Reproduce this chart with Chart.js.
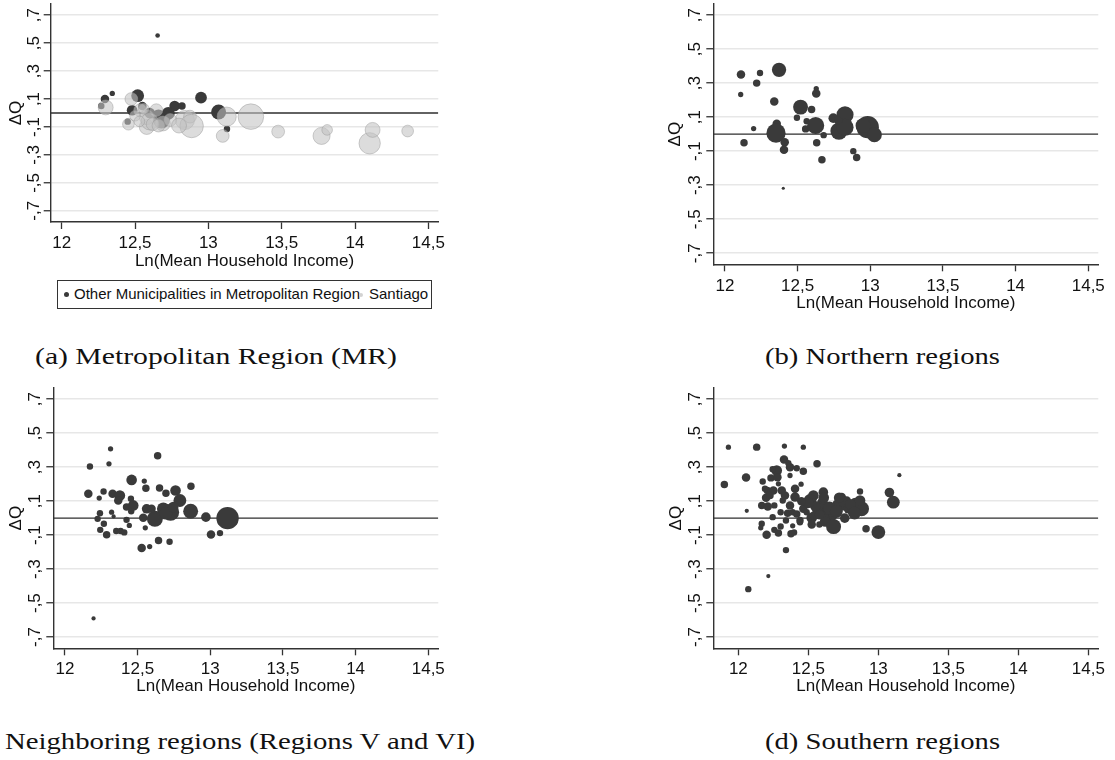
<!DOCTYPE html>
<html><head><meta charset="utf-8">
<script src="https://cdn.jsdelivr.net/npm/chart.js@4.4.1/dist/chart.umd.min.js"></script>
<style>
html,body{margin:0;padding:0;background:#fff;width:1115px;height:760px;overflow:hidden;position:relative}
canvas{position:absolute;display:block}
.cap{position:absolute;font-family:"Liberation Serif","Times New Roman",serif;font-size:24px;line-height:26px;color:#111;white-space:nowrap;transform-origin:0 50%}
.legend{position:absolute;left:57px;top:280px;width:375px;height:29px;border:1px solid #333;box-sizing:border-box;font-family:"Liberation Sans",Arial,sans-serif;font-size:15px;color:#111}
.legend span{position:absolute}
.dot{border-radius:50%}
</style>
</head><body>
<canvas id="ca"></canvas>
<canvas id="cb"></canvas>
<canvas id="cc"></canvas>
<canvas id="cd"></canvas>
<div class="legend">
  <span class="dot" style="left:6px;top:11px;width:5px;height:5px;background:#3a3a3a"></span>
  <span style="left:16px;top:4px">Other Municipalities in Metropolitan Region</span>
  <span class="dot" style="left:301px;top:12px;width:4px;height:4px;background:#d2d2d2"></span>
  <span style="left:311px;top:4px">Santiago</span>
</div>
<div class="cap" data-w="362" style="left:35px;top:343px">(a) Metropolitan Region (MR)</div>
<div class="cap" data-w="235" style="left:765px;top:343px">(b) Northern regions</div>
<div class="cap" data-w="470" style="left:5px;top:728px">Neighboring regions (Regions V and VI)</div>
<div class="cap" data-w="235" style="left:765px;top:728px">(d) Southern regions</div>
<script>
// ---------------- data ----------------
const xTicks = [12, 12.5, 13, 13.5, 14, 14.5];
const xTickLabels = ["12", "12,5", "13", "13,5", "14", "14,5"];
const yTicks = [-0.7, -0.5, -0.3, -0.1, 0.1, 0.3, 0.5, 0.7];
const yTickLabels = ["-,7", "-,5", "-,3", "-,1", ",1", ",3", ",5", ",7"];
const xTitle = "Ln(Mean Household Income)";
const yTitle = "ΔQ";

// (a) Metropolitan Region
const mrOtherIncome = [12.654, 12.295, 12.345, 12.518, 12.95, 12.77, 12.82, 13.07, 13.127, 12.45, 12.68, 12.48, 12.727, 12.27, 12.60, 12.66, 12.55];
const mrOtherDQ     = [0.555, 0.10, 0.14, 0.124, 0.11, 0.05, 0.05, 0.007, -0.114, -0.062, -0.05, 0.02, -0.002, 0.05, 0.00, -0.02, 0.05];
const mrOtherWeight = [13, 44, 17, 100, 84, 69, 34, 136, 25, 25, 178, 69, 100, 25, 69, 100, 44];

const santiagoIncome = [12.30, 12.475, 12.455, 12.535, 12.58, 12.645, 12.58, 12.69, 12.84, 12.875, 12.886, 13.125, 13.29, 13.098, 13.476, 13.772, 13.81, 14.10, 14.12, 14.359, 12.60, 12.56, 12.62, 12.50, 12.74, 12.80, 12.53, 12.66];
const santiagoDQ     = [0.04, 0.10, -0.08, 0.02, -0.10, 0.02, -0.03, -0.075, -0.05, -0.026, -0.093, -0.026, -0.026, -0.164, -0.133, -0.164, -0.121, -0.217, -0.121, -0.129, -0.06, 0.03, -0.08, -0.02, -0.05, -0.09, -0.06, -0.09];
const santiagoWeight = [136, 100, 84, 100, 136, 100, 136, 136, 225, 100, 336, 225, 400, 100, 100, 178, 69, 278, 136, 84, 178, 69, 100, 69, 100, 136, 69, 100];

// (b) Northern regions
const northIncome = [12.11, 12.241, 12.218, 12.108, 12.372, 12.339, 12.628, 12.628, 12.52, 12.596, 12.495, 12.197, 12.131, 12.356, 12.351, 12.411, 12.406, 12.401, 12.562, 12.555, 12.624, 12.631, 12.679, 12.667, 12.745, 12.784, 12.826, 12.826, 12.78, 12.883, 12.906, 12.982, 13.028, 12.95];
const northDQ     = [0.351, 0.359, 0.30, 0.233, 0.378, 0.192, 0.267, 0.239, 0.159, 0.145, 0.096, 0.033, -0.051, 0.061, 0.006, -0.047, -0.092, -0.318, 0.076, 0.031, 0.051, -0.051, -0.006, -0.151, 0.094, 0.018, 0.114, 0.041, 0.08, -0.10, -0.137, 0.041, -0.004, 0.05];
const northWeight = [44, 25, 34, 17, 125, 44, 17, 44, 136, 34, 25, 17, 34, 44, 225, 44, 44, 6, 25, 34, 178, 34, 25, 34, 56, 178, 178, 178, 44, 25, 34, 306, 136, 136];

// (c) Neighboring regions (V and VI)
const neighIncome = [12.314, 12.172, 12.303, 12.638, 12.197, 12.459, 12.546, 12.557, 12.651, 12.867, 12.161, 12.266, 12.236, 12.328, 12.378, 12.367, 12.454, 12.47, 12.424, 12.695, 12.761, 12.791, 12.865, 12.727, 12.677, 12.619, 12.562, 12.539, 12.97, 13.119, 13.005, 13.067, 12.225, 12.241, 12.268, 12.243, 12.287, 12.353, 12.383, 12.408, 12.443, 12.424, 12.335, 12.553, 12.528, 12.583, 12.644, 12.72, 12.596, 12.695, 12.745, 12.456, 12.321];
const neighDQ     = [0.408, 0.304, 0.32, 0.367, -0.59, 0.225, 0.218, 0.176, 0.178, 0.188, 0.143, 0.157, 0.118, 0.143, 0.133, 0.104, 0.114, 0.075, 0.065, 0.147, 0.163, 0.104, 0.041, 0.035, 0.055, -0.004, 0.055, 0.002, 0.006, 0.0, -0.096, -0.088, -0.004, 0.029, -0.033, -0.069, -0.098, -0.076, -0.076, -0.084, -0.043, -0.01, 0.01, -0.057, -0.175, -0.167, -0.131, -0.139, 0.055, 0.029, 0.065, 0.041, 0.035];
const neighWeight = [17, 25, 17, 34, 11, 69, 17, 34, 34, 34, 44, 25, 17, 44, 69, 44, 25, 69, 34, 34, 69, 100, 136, 178, 100, 156, 56, 44, 56, 306, 44, 25, 25, 25, 25, 25, 34, 25, 25, 25, 17, 25, 11, 17, 44, 17, 34, 25, 44, 100, 69, 25, 17];

// (d) Southern regions
const southIncome = [11.929, 12.131, 12.329, 12.464, 11.90, 12.055, 12.06, 12.071, 12.214, 12.34, 12.562, 13.15, 12.869, 13.079, 13.107, 13.0, 12.912, 12.845, 12.88, 12.738, 12.738, 12.679, 12.655, 12.607, 12.536, 12.512, 12.571, 12.524, 12.579, 12.44, 12.405, 12.448, 12.464, 12.417, 12.369, 12.326, 12.357, 12.274, 12.245, 12.174, 12.233, 12.207, 12.198, 12.167, 12.21, 12.245, 12.167, 12.16, 12.202, 12.257, 12.286, 12.302, 12.376, 12.398, 12.388, 12.44, 12.31, 12.333, 12.317, 12.369, 12.405, 12.388, 12.417, 12.302, 12.257, 12.464, 12.369, 12.286, 12.25, 12.679, 12.619, 12.786, 12.774, 12.702, 12.488, 12.54, 12.524, 12.631, 12.869, 12.821, 12.226, 12.19, 12.279, 12.352, 12.34,
                     12.60, 12.65, 12.70, 12.75, 12.80, 12.55, 12.83, 12.61, 12.72, 12.50, 12.45, 12.62, 12.68, 12.58, 12.76];
const southDQ     = [0.418, 0.418, 0.424, 0.418, 0.198, 0.239, 0.043, -0.418, -0.341, -0.188, 0.32, 0.253, 0.157, 0.151, 0.094, -0.082, -0.063, 0.065, 0.055, 0.124, 0.075, -0.043, 0.025, 0.153, 0.133, 0.104, 0.055, 0.002, -0.037, -0.014, 0.173, 0.2, 0.276, 0.294, 0.3, 0.345, 0.324, 0.28, 0.288, 0.216, 0.237, 0.163, 0.12, 0.075, 0.069, 0.006, -0.033, -0.057, -0.098, -0.069, -0.088, -0.049, -0.092, -0.084, -0.045, -0.024, 0.163, 0.133, 0.104, 0.075, 0.124, 0.035, 0.025, 0.035, 0.075, 0.055, 0.251, 0.202, 0.163, 0.025, -0.004, 0.055, 0.104, 0.084, 0.035, 0.016, -0.037, 0.065, 0.104, 0.035, 0.133, 0.173, 0.241, 0.029, -0.014,
                     0.09, 0.06, 0.04, 0.10, 0.08, 0.07, 0.03, 0.12, 0.12, 0.09, 0.10, -0.02, -0.05, 0.02, 0.00];
const southWeight = [17, 34, 17, 17, 34, 44, 11, 25, 11, 25, 34, 11, 25, 56, 100, 117, 34, 225, 136, 44, 69, 100, 136, 56, 69, 100, 100, 69, 25, 34, 44, 17, 34, 25, 44, 44, 25, 69, 25, 25, 34, 34, 44, 34, 44, 25, 25, 17, 44, 25, 34, 25, 34, 25, 17, 25, 44, 44, 25, 44, 56, 25, 34, 25, 25, 44, 17, 17, 44, 69, 44, 56, 44, 44, 25, 44, 44, 69, 69, 69, 34, 25, 44, 34, 25,
                     69, 100, 100, 69, 69, 69, 100, 69, 69, 69, 44, 69, 136, 56, 56];

// ---------------- drawing ----------------
const DARK = '#3a3a3a';
const rOf = w => 0.64 * Math.sqrt(w);
const pts = (xs, ys, ws) => xs.map((x, i) => ({ x: x, y: ys[i], r: rOf(ws[i]) }));

const FONT = '"Liberation Sans", Arial, sans-serif';
const FS = 17;
const mctx = document.createElement('canvas').getContext('2d');
mctx.font = FS + 'px ' + FONT;
const widestY = Math.max(...yTickLabels.map(t => mctx.measureText(t).width));

function darkSet(data) {
  return { type: 'bubble', data: data, backgroundColor: DARK, borderWidth: 0, order: 2 };
}
function lightSet(data) {
  return { type: 'bubble', data: data, backgroundColor: 'rgba(195,195,195,0.58)', borderColor: 'rgba(150,150,150,0.45)', borderWidth: 1, order: 1 };
}

function makePanel(g, sets) {
  const cv = document.getElementById(g.id);
  cv.width = g.width; cv.height = g.height;
  cv.style.left = g.left + 'px'; cv.style.top = g.top + 'px';
  const yAxisW = g.area.l - g.left;
  const xAxisH = g.top + g.height - g.area.b;
  const TL = 7;
  const zero = { type: 'line', data: [{ x: g.x[0], y: 0 }, { x: g.x[1], y: 0 }], borderColor: '#2e2e2e', borderWidth: 1.4, pointRadius: 0, order: 10 };
  new Chart(cv, {
    type: 'bubble',
    data: { datasets: [zero].concat(sets) },
    options: {
      responsive: false, animation: false, events: [],
      layout: { autoPadding: false, padding: { left: 0, top: g.area.t - g.top, right: g.left + g.width - g.area.r, bottom: 0 } },
      plugins: { legend: { display: false }, tooltip: { enabled: false } },
      scales: {
        x: {
          type: 'linear', min: g.x[0], max: g.x[1],
          afterBuildTicks: s => { s.ticks = xTicks.map(v => ({ value: v })); },
          afterFit: s => { s.height = xAxisH; s.paddingLeft = 0; s.paddingRight = 0; s.paddingTop = 0; s.paddingBottom = 0; },
          ticks: { autoSkip: false, maxRotation: 0, minRotation: 0, padding: g.xPad, color: '#111', font: { family: FONT, size: FS },
                   callback: (v, i) => xTickLabels[i] },
          grid: { drawOnChartArea: false, drawTicks: true, tickLength: TL, tickColor: '#333', tickWidth: 1.3 },
          border: { display: true, color: '#333', width: 1.4 },
          title: { display: true, text: xTitle, color: '#111', font: { family: FONT, size: FS }, padding: { top: 0, bottom: xAxisH - g.xTitleGap - FS * 0.6 } }
        },
        y: {
          type: 'linear', min: g.y[0], max: g.y[1],
          afterBuildTicks: s => { s.ticks = yTicks.map(v => ({ value: v })); },
          afterFit: s => { s.width = yAxisW; s.paddingLeft = 0; s.paddingRight = 0; s.paddingTop = 0; s.paddingBottom = 0; },
          ticks: { autoSkip: false, minRotation: 90, maxRotation: 90, crossAlign: 'center', padding: g.yLabelOff - TL - widestY / 2,
                   color: '#111', font: { family: FONT, size: FS }, callback: (v, i) => yTickLabels[i] },
          grid: { color: '#e7e7e7', lineWidth: 1.5, drawTicks: true, tickLength: TL, tickColor: '#333', tickWidth: 1.3 },
          border: { display: true, color: '#333', width: 1.4 },
          title: { display: true, text: yTitle, color: '#111', font: { family: FONT, size: FS }, padding: { top: g.yTitleX - FS * 0.6, bottom: 0 } }
        }
      }
    }
  });
}

makePanel({ id: 'ca', left: 0, top: 0, width: 445, height: 275, area: { l: 50.7, t: 4, r: 438.3, b: 222 },
            x: [11.925, 14.568], y: [-0.78, 0.78], yLabelOff: 16.7, yTitleX: 16, xPad: 4.5, xTitleGap: 39 },
  [darkSet(pts(mrOtherIncome, mrOtherDQ, mrOtherWeight)), lightSet(pts(santiagoIncome, santiagoDQ, santiagoWeight))]);

makePanel({ id: 'cb', left: 660, top: 0, width: 445, height: 318, area: { l: 713.3, t: 4, r: 1098.3, b: 264.3 },
            x: [11.9195, 14.569], y: [-0.765, 0.765], yLabelOff: 18.3, yTitleX: 15, xPad: 4.5, xTitleGap: 39 },
  [darkSet(pts(northIncome, northDQ, northWeight))]);

makePanel({ id: 'cc', left: 0, top: 380, width: 445, height: 321, area: { l: 53.3, t: 388, r: 438.3, b: 648.3 },
            x: [11.92, 14.569], y: [-0.766, 0.766], yLabelOff: 18.3, yTitleX: 16, xPad: 4, xTitleGap: 38 },
  [darkSet(pts(neighIncome, neighDQ, neighWeight))]);

makePanel({ id: 'cd', left: 660, top: 380, width: 445, height: 321, area: { l: 713.3, t: 388, r: 1098.3, b: 648.3 },
            x: [11.821, 14.571], y: [-0.766, 0.766], yLabelOff: 18.3, yTitleX: 16, xPad: 4, xTitleGap: 38 },
  [darkSet(pts(southIncome, southDQ, southWeight))]);

// caption widths
document.querySelectorAll('.cap').forEach(el => {
  const w = el.getBoundingClientRect().width;
  const target = +el.dataset.w;
  if (w > 0) el.style.transform = 'scaleX(' + (target / w).toFixed(4) + ')';
});
</script>
</body></html>
